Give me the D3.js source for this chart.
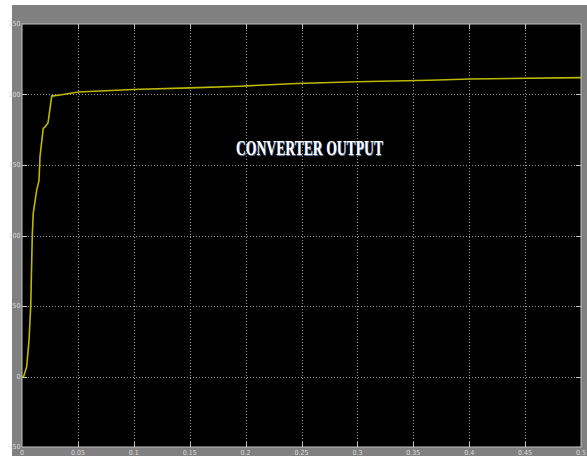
<!DOCTYPE html>
<html>
<head>
<meta charset="utf-8">
<script src="https://cdn.jsdelivr.net/npm/d3@7"></script>
<style>
  body { margin: 0; background: #fff; }
</style>
</head>
<body>
<script>
// values
const time = [0, 0.0015, 0.0042, 0.0063, 0.0078, 0.0092, 0.0101, 0.0131, 0.0152, 0.0161, 0.019, 0.0206, 0.0233, 0.0266, 0.028, 0.034, 0.0504, 0.0993, 0.150, 0.195, 0.2457, 0.2994, 0.365, 0.4007, 0.5];
const voltage = [0, 0, 7, 26, 50, 100, 116, 132, 139, 156, 176, 177, 180, 199, 199, 199.7, 201.8, 203.5, 204.7, 205.9, 207.8, 209, 210.1, 211, 212];
const xTicks = [0, 0.05, 0.1, 0.15, 0.2, 0.25, 0.3, 0.35, 0.4, 0.45, 0.5];
const yTicks = [-50, 0, 50, 100, 150, 200, 250];
const title = "CONVERTER OUTPUT";

const width = 587, height = 456;
const svg = d3.select("body").append("svg")
  .attr("width", width).attr("height", height)
  .style("display", "block");

// grey scope window
svg.append("rect").attr("x", 12).attr("y", 5).attr("width", width - 12).attr("height", height - 5).attr("fill", "#808080");

const x = d3.scaleLinear().domain([0, 0.5]).range([22, 581]);
const y = d3.scaleLinear().domain([-50, 250]).range([447, 24]);

svg.append("rect")
  .attr("x", x(0)).attr("y", y(250))
  .attr("width", x(0.5) - x(0)).attr("height", y(-50) - y(250))
  .attr("fill", "#000").attr("stroke", "#c4c4c4").attr("stroke-width", 1);

// dotted grid
const grid = svg.append("g").attr("stroke", "#9a9a9a").attr("stroke-dasharray", "1,2");
grid.selectAll(".gx").data(xTicks.slice(1, -1)).join("line")
  .attr("x1", d => Math.round(x(d)) + 0.5).attr("x2", d => Math.round(x(d)) + 0.5)
  .attr("y1", y(250)).attr("y2", y(-50));
grid.selectAll(".gy").data(yTicks.slice(1, -1)).join("line")
  .attr("y1", d => Math.round(y(d)) + 0.5).attr("y2", d => Math.round(y(d)) + 0.5)
  .attr("x1", x(0)).attr("x2", x(0.5));

// solid tick marks inside the frame
const ticks = svg.append("g").attr("stroke", "#c4c4c4");
xTicks.slice(1, -1).forEach(d => {
  const px = Math.round(x(d)) + 0.5;
  ticks.append("line").attr("x1", px).attr("x2", px).attr("y1", y(250)).attr("y2", y(250) + 5);
  ticks.append("line").attr("x1", px).attr("x2", px).attr("y1", y(-50)).attr("y2", y(-50) - 5);
});
yTicks.slice(1, -1).forEach(d => {
  const py = Math.round(y(d)) + 0.5;
  ticks.append("line").attr("y1", py).attr("y2", py).attr("x1", x(0)).attr("x2", x(0) + 5);
  ticks.append("line").attr("y1", py).attr("y2", py).attr("x1", x(0.5)).attr("x2", x(0.5) - 5);
});

// tick labels
const fmt = d3.format("~g");
svg.append("g")
  .attr("font-family", "DejaVu Sans Condensed, sans-serif").attr("font-size", 7).attr("fill", "#dcdcdc")
  .selectAll("text").data(yTicks).join("text")
  .attr("x", 20.5).attr("y", d => y(d)).attr("dy", "0.35em")
  .attr("text-anchor", "end").text(d => fmt(d));
svg.append("g")
  .attr("font-family", "DejaVu Sans Condensed, sans-serif").attr("font-size", 7).attr("fill", "#dcdcdc")
  .selectAll("text").data(xTicks).join("text")
  .attr("x", d => x(d)).attr("y", 455)
  .attr("text-anchor", "middle").text(d => fmt(d));

// trace
svg.append("path")
  .datum(time.map((t, i) => [t, voltage[i]]))
  .attr("fill", "none").attr("stroke", "#bcb800").attr("stroke-width", 1.6)
  .attr("d", d3.line().x(d => x(d[0])).y(d => y(d[1])));

// title
svg.append("text")
  .attr("x", 236).attr("y", 155)
  .attr("font-family", "Liberation Serif, serif").attr("font-weight", "bold").attr("font-size", 20)
  .attr("fill", "#fff")
  .attr("textLength", 147).attr("lengthAdjust", "spacingAndGlyphs")
  .style("text-shadow", "1px 1px 1px #6a7fa8")
  .text(title);
</script>
</body>
</html>
